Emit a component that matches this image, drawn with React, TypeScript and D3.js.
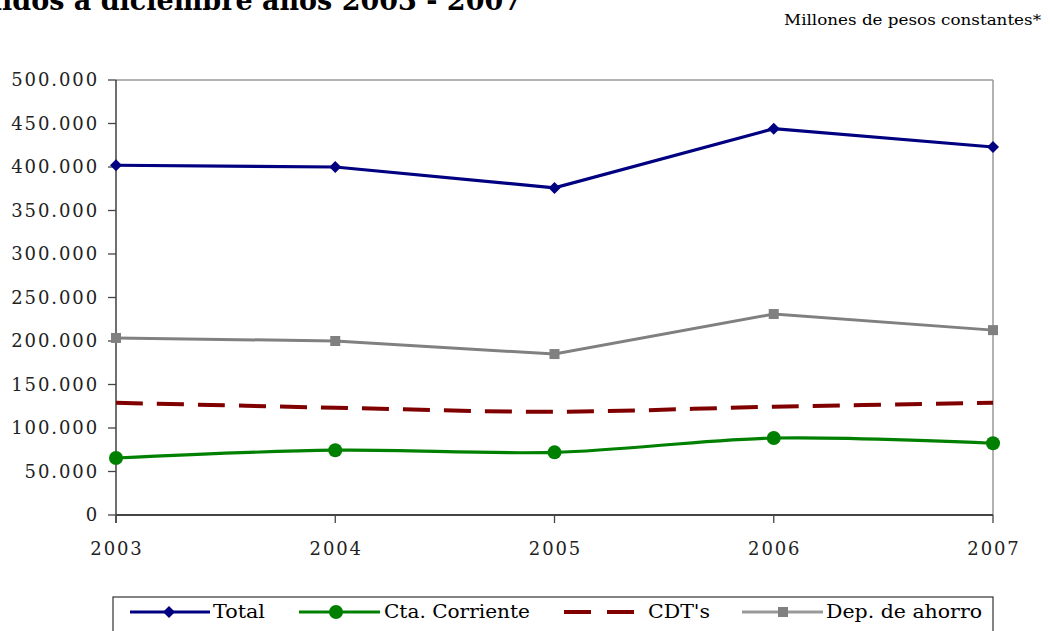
import React from "react";
import * as d3 from "d3";

const years = ["2003", "2004", "2005", "2006", "2007"];
const total = [402000, 400000, 376000, 444000, 423000];
const ctaCorriente = [65500, 74500, 72000, 88500, 82500];
const cdts = [129000, 123300, 118700, 124500, 129000];
const depAhorro = [203500, 200000, 185000, 231000, 212500];
const yTicks = [0, 50000, 100000, 150000, 200000, 250000, 300000, 350000, 400000, 450000, 500000];

const W = 1050;
const H = 631;
const left = 116, right = 993, top = 80, bottom = 515;
const FONT = "'DejaVu Serif', 'Liberation Serif', serif";

const fmt = (v: number) => (v === 0 ? "0" : d3.format(",")(v).replace(/,/g, "."));

export default function App() {
  const x = d3.scalePoint<string>().domain(years).range([left, right]);
  const y = d3.scaleLinear().domain([0, 500000]).range([bottom, top]);

  const straight = d3.line<number>().x((_, i) => x(years[i])!).y((d) => y(d));
  const smooth = d3
    .line<number>()
    .x((_, i) => x(years[i])!)
    .y((d) => y(d))
    .curve(d3.curveCardinal.tension(0));

  const diamond = (cx: number, cy: number, r: number) =>
    `M${cx},${cy - r}L${cx + r},${cy}L${cx},${cy + r}L${cx - r},${cy}Z`;

  const legendY = 612;

  return (
    <svg width={W} height={H} style={{ position: "absolute", left: 0, top: 0, background: "#fff" }}>
      <rect width={W} height={H} fill="#fff" />
      {/* Title (clipped at top, as in the original) */}
      <text x={522} y={10} textAnchor="end" fontFamily={FONT} fontWeight="bold" fontSize={27} fill="#000">
        Saldos a diciembre años 2003 - 2007
      </text>
      <text x={1041} y={25} textAnchor="end" fontFamily={FONT} fontSize={15.5} fill="#000" textLength={257} lengthAdjust="spacingAndGlyphs">
        Millones de pesos constantes*
      </text>

      {/* plot frame */}
      <line x1={left} x2={right} y1={top} y2={top} stroke="#999" strokeWidth={1.5} />
      <line x1={right} x2={right} y1={top} y2={bottom} stroke="#999" strokeWidth={1.5} />
      <line x1={left} x2={left} y1={top} y2={bottom + 8} stroke="#222" strokeWidth={1.3} />
      <line x1={left} x2={right} y1={bottom} y2={bottom} stroke="#444" strokeWidth={2} />

      {/* y ticks */}
      {yTicks.map((t) => (
        <g key={t}>
          <line x1={left - 8} x2={left} y1={y(t)} y2={y(t)} stroke="#444" strokeWidth={1.3} />
          <text x={99} y={y(t)} dy="0.35em" textAnchor="end" fontFamily={FONT} fontSize={18} letterSpacing={1.9} fill="#222">
            {fmt(t)}
          </text>
        </g>
      ))}

      {/* x ticks */}
      {years.map((yr) => (
        <g key={yr}>
          <line x1={x(yr)!} x2={x(yr)!} y1={bottom} y2={bottom + 8} stroke="#444" strokeWidth={1.3} />
          <text x={x(yr)! + 1} y={549} dy="0.35em" textAnchor="middle" fontFamily={FONT} fontSize={18} letterSpacing={1.9} fill="#222">
            {yr}
          </text>
        </g>
      ))}

      {/* series */}
      <path d={straight(depAhorro)!} fill="none" stroke="#808080" strokeWidth={3} />
      {depAhorro.map((v, i) => (
        <rect key={i} x={x(years[i])! - 5} y={y(v) - 5} width={10} height={10} fill="#808080" />
      ))}

      <path d={smooth(cdts)!} fill="none" stroke="#800000" strokeWidth={4} strokeDasharray="27,14" />

      <path d={smooth(ctaCorriente)!} fill="none" stroke="#008000" strokeWidth={3.2} />
      {ctaCorriente.map((v, i) => (
        <circle key={i} cx={x(years[i])!} cy={y(v)} r={7} fill="#008000" />
      ))}

      <path d={straight(total)!} fill="none" stroke="#000080" strokeWidth={3.2} />
      {total.map((v, i) => (
        <path key={i} d={diamond(x(years[i])!, y(v), 6)} fill="#000080" />
      ))}

      {/* legend */}
      <rect x={113} y={597} width={880} height={50} fill="#fff" stroke="#333" strokeWidth={1.2} />
      <g fontFamily={FONT} fontSize={18} fill="#000">
        <line x1={130} x2={210} y1={legendY} y2={legendY} stroke="#000080" strokeWidth={3} />
        <path d={diamond(169, legendY, 6)} fill="#000080" />
        <text x={213} y={legendY} dy="0.35em" textLength={52} lengthAdjust="spacingAndGlyphs">Total</text>

        <line x1={299} x2={380} y1={legendY} y2={legendY} stroke="#008000" strokeWidth={3} />
        <circle cx={336} cy={legendY} r={7} fill="#008000" />
        <text x={384} y={legendY} dy="0.35em" textLength={146} lengthAdjust="spacingAndGlyphs">Cta. Corriente</text>

        <line x1={564} x2={634} y1={legendY} y2={legendY} stroke="#800000" strokeWidth={4} strokeDasharray="27,16" />
        <text x={648} y={legendY} dy="0.35em" textLength={62} lengthAdjust="spacingAndGlyphs">CDT's</text>

        <line x1={742} x2={823} y1={legendY} y2={legendY} stroke="#999" strokeWidth={3} />
        <rect x={778} y={legendY - 5} width={10} height={10} fill="#808080" />
        <text x={826} y={legendY} dy="0.35em" textLength={156} lengthAdjust="spacingAndGlyphs">Dep. de ahorro</text>
      </g>
    </svg>
  );
}
